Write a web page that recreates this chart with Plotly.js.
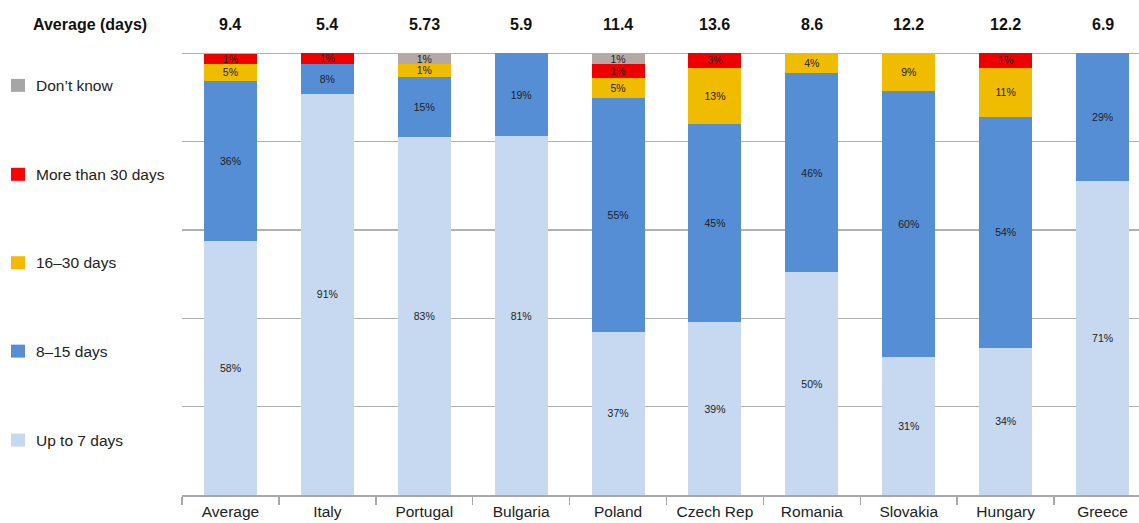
<!DOCTYPE html>
<html>
<head>
<meta charset="utf-8">
<script src="https://cdn.plot.ly/plotly-3.0.1.min.js"></script>
<style>
  html, body { margin: 0; padding: 0; background: #ffffff; }
  #chart { width: 1139px; height: 523px; }
</style>
</head>
<body>
<div id="chart"></div>
<script>
// ---- Data ----
const categories = ['Average', 'Italy', 'Portugal', 'Bulgaria', 'Poland', 'Czech Rep', 'Romania', 'Slovakia', 'Hungary', 'Greece'];
const averageDays = ['9.4', '5.4', '5.73', '5.9', '11.4', '13.6', '8.6', '12.2', '12.2', '6.9'];

const seriesNames = ['Up to 7 days', '8–15 days', '16–30 days', 'More than 30 days', 'Don’t know'];

const upTo7Days = [57.6, 90.9, 81.0, 81.2, 37.0, 39.1, 50.4, 31.2, 33.4, 71.2];
const upTo7Labels = ['58%', '91%', '83%', '81%', '37%', '39%', '50%', '31%', '34%', '71%'];

const days8to15 = [36.2, 6.8, 13.7, 18.8, 52.9, 45.0, 45.2, 60.2, 52.3, 28.8];
const days8to15Labels = ['36%', '8%', '15%', '19%', '55%', '45%', '46%', '60%', '54%', '29%'];

const days16to30 = [3.8, null, 2.9, null, 4.5, 12.7, 4.4, 8.7, 11.1, null];
const days16to30Labels = ['5%', '', '1%', '', '5%', '13%', '4%', '9%', '11%', ''];

const moreThan30 = [2.3, 2.3, null, null, 3.2, 3.2, null, null, 3.2, null];
const moreThan30Labels = ['1%', '1%', '', '', '1%', '3%', '', '', '1%', ''];

const dontKnow = [null, null, 2.3, null, 2.3, null, null, null, null, null];
const dontKnowLabels = ['', '', '1%', '', '1%', '', '', '', '', ''];

// ---- Styling ----
const FONT = 'Liberation Sans, Arial, Helvetica, sans-serif';
const colors = ['#c6d9f0', '#558ed5', '#f0bc00', '#ee0000', '#b3aaa8'];
const legendColors = ['#c6d9f0', '#558ed5', '#f7b900', '#ff0000', '#a6a6a6'];
const seriesValues = [upTo7Days, days8to15, days16to30, moreThan30, dontKnow];
const seriesLabels = [upTo7Labels, days8to15Labels, days16to30Labels, moreThan30Labels, dontKnowLabels];

const traces = seriesNames.map((name, i) => ({
  type: 'bar',
  name: name,
  x: categories,
  y: seriesValues[i],
  text: seriesLabels[i],
  textposition: 'inside',
  insidetextanchor: 'middle',
  textangle: 0,
  constraintext: 'none',
  textfont: { family: FONT, size: 10.5, color: '#222222' },
  marker: { color: colors[i], line: { width: 0 } },
  hoverinfo: 'skip'
}));

// Figure geometry (pixels)
const W = 1139, H = 523;
const yTop = 101;                 // axis range top (100% line sits just inside)
const pxPerUnit = 4.42;
const mB = 28;
const plotH = yTop * pxPerUnit;
const mT = H - mB - plotH;
const mL = 182, mR = 0;
const plotW = W - mL - mR;
const catW = 96.9;
const xMax = -0.5 + plotW / catW;

const px2x = px => (px - mL) / plotW;
const py2y = py => (H - mB - py) / plotH;

const annotations = [];
const shapes = [];

// Header row: "Average (days)" and values above bars
annotations.push({
  xref: 'paper', yref: 'paper', x: px2x(31), y: py2y(24),
  xanchor: 'left', yanchor: 'middle', showarrow: false,
  text: '<b>Average (days)</b>',
  font: { family: FONT, size: 16, color: '#111111' }
});
categories.forEach((c, i) => {
  annotations.push({
    xref: 'x', yref: 'paper', x: c, y: py2y(24),
    xanchor: 'center', yanchor: 'middle', showarrow: false,
    text: '<b>' + averageDays[i] + '</b>',
    font: { family: FONT, size: 16, color: '#111111' }
  });
});

// Custom legend on the left (top to bottom: Don't know ... Up to 7 days)
const legendCenters = [85, 174, 262.5, 351, 440];
for (let k = 0; k < 5; k++) {
  const si = 4 - k;
  const cy = legendCenters[k];
  shapes.push({
    type: 'rect', xref: 'paper', yref: 'paper',
    x0: px2x(11), x1: px2x(25), y0: py2y(cy + 6.5), y1: py2y(cy - 6.5),
    fillcolor: legendColors[si], line: { width: 0 }
  });
  annotations.push({
    xref: 'paper', yref: 'paper', x: px2x(34), y: py2y(cy),
    xanchor: 'left', yanchor: 'middle', showarrow: false,
    text: seriesNames[si],
    font: { family: FONT, size: 15.5, color: '#222222' }
  });
}

const layout = {
  width: W, height: H,
  margin: { l: mL, r: mR, t: mT, b: mB, pad: 0 },
  paper_bgcolor: '#ffffff',
  plot_bgcolor: '#ffffff',
  barmode: 'stack',
  bargap: 0.453,
  showlegend: false,
  font: { family: FONT, size: 16, color: '#222222' },
  xaxis: {
    type: 'category',
    range: [-0.5, xMax],
    showgrid: false,
    zeroline: false,
    showline: true,
    linecolor: '#a8a8a8',
    linewidth: 1.5,
    ticks: 'outside',
    tickson: 'boundaries',
    ticklen: 8,
    tickwidth: 1.5,
    tickcolor: '#a8a8a8',
    ticklabelstandoff: 2,
    tickfont: { family: FONT, size: 15.5, color: '#222222' },
    fixedrange: true
  },
  yaxis: {
    range: [0, yTop],
    dtick: 20,
    tick0: 0,
    showgrid: true,
    gridcolor: '#b0b0b0',
    gridwidth: 1.5,
    zeroline: false,
    showline: false,
    showticklabels: false,
    ticks: '',
    fixedrange: true
  },
  annotations: annotations,
  shapes: shapes
};

Plotly.newPlot('chart', traces, layout, { displayModeBar: false, staticPlot: true });
</script>
</body>
</html>
